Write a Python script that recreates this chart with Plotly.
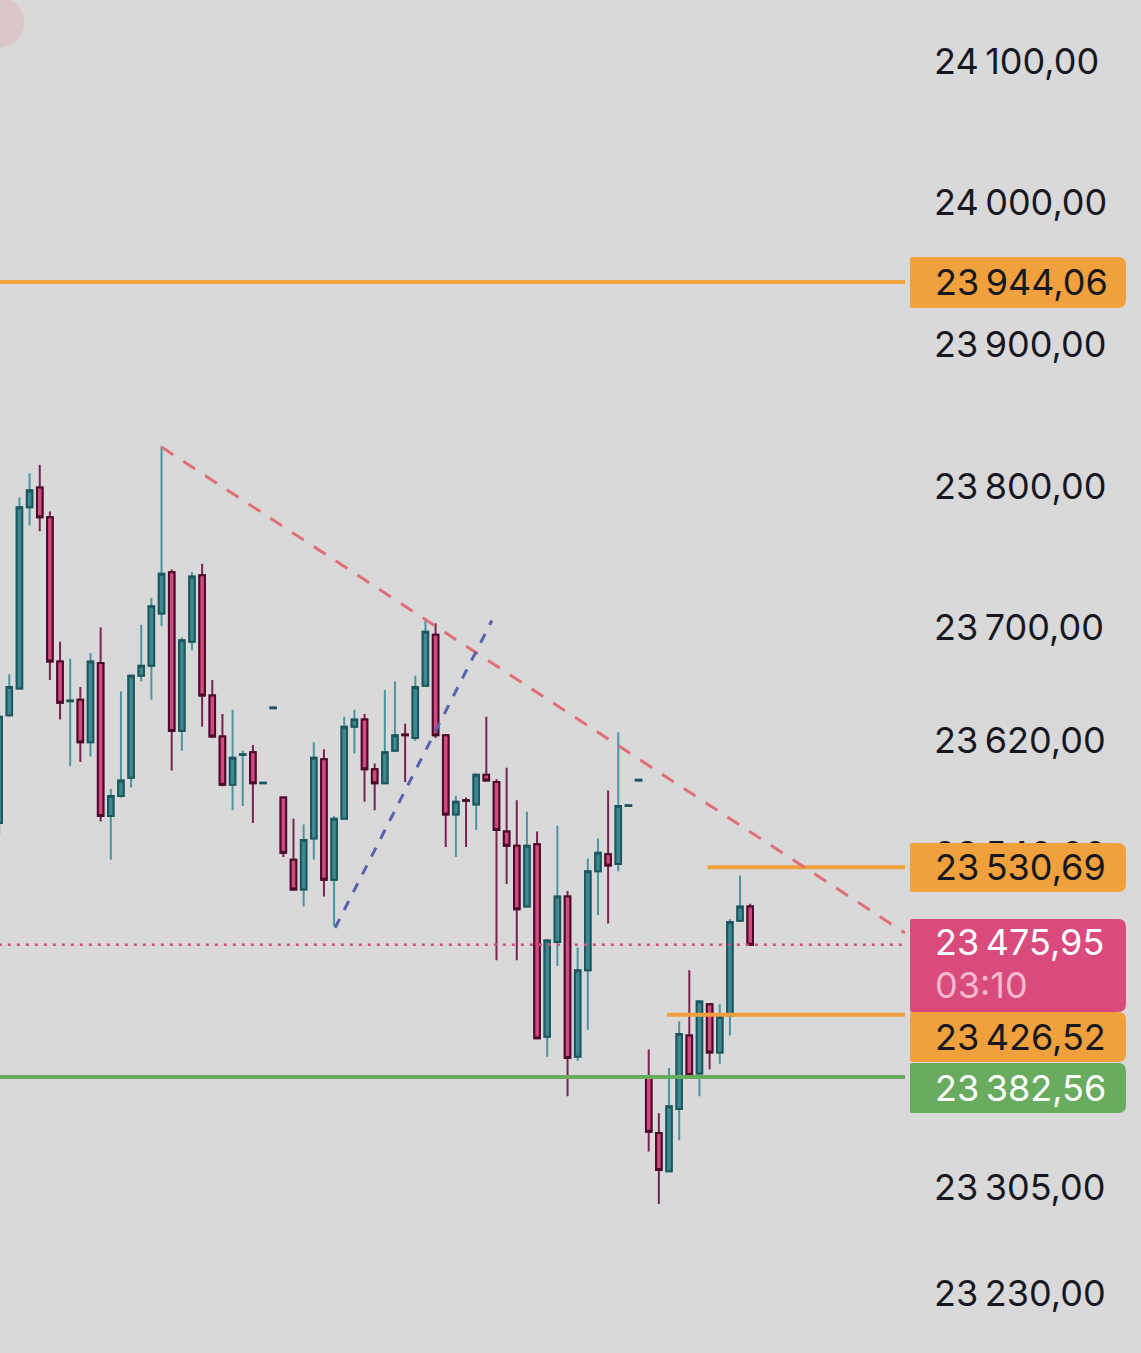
import plotly.graph_objects as go

# ---- candles (bar number on a hidden x axis, oldest first) ----
opens = [23562, 23638, 23657, 23785, 23799, 23778, 23676, 23648, 23649, 23619,
         23675, 23567, 23581, 23594, 23666, 23673, 23710, 23739, 23627, 23690,
         23737, 23652, 23623, 23589, 23610, 23612, 23590, 23643, 23580, 23536,
         23515, 23551, 23607, 23522, 23565, 23630, 23635, 23600, 23590, 23613,
         23624.5, 23622, 23659, 23695, 23624, 23568, 23578, 23575, 23596, 23591,
         23556, 23546, 23503, 23547, 23411, 23478, 23510, 23397, 23458, 23528,
         23540, 23533, 23574, 23592, 23383, 23343, 23316, 23360, 23412, 23385,
         23434, 23400, 23426, 23493, 23503]
highs = [23641, 23667, 23792, 23809, 23815, 23782, 23690, 23678, 23658, 23682,
         23700, 23586, 23655, 23667, 23702, 23721, 23828, 23741, 23693, 23739,
         23745, 23663, 23639, 23642, 23613, 23617, 23590.5, 23643.5, 23580, 23565,
         23561, 23619, 23614, 23567, 23637, 23642, 23639, 23604, 23656, 23662,
         23632, 23666, 23706, 23703, 23624, 23581, 23580, 23597, 23637, 23593,
         23601, 23578, 23570, 23556, 23480, 23560, 23514, 23474, 23537, 23551,
         23585, 23626, 23574.5, 23592.5, 23402, 23357, 23389, 23422, 23458, 23437,
         23434, 23434, 23494, 23525, 23505]
lows = [23553, 23637, 23657, 23772, 23768, 23663, 23635, 23602, 23605, 23609,
        23563, 23536, 23580, 23587, 23662, 23649, 23701, 23599, 23613, 23684,
        23630, 23622, 23588, 23571, 23574, 23562, 23590, 23643, 23538, 23515,
        23503, 23536, 23510, 23489, 23565, 23611, 23577, 23571, 23590, 23613,
        23591, 23620, 23659, 23622, 23545, 23538, 23545, 23557, 23592, 23465,
        23519, 23465, 23503, 23410, 23397, 23461, 23369, 23394, 23416, 23497,
        23491, 23528, 23574, 23592, 23330, 23293, 23316, 23338, 23383, 23369,
        23388, 23392, 23412, 23493, 23476]
closes = [23637, 23658, 23785, 23797, 23778, 23676, 23647, 23648.5, 23619, 23676,
          23567, 23581, 23592, 23666, 23673, 23715, 23738, 23627, 23691, 23736,
          23652, 23623, 23589, 23608, 23610.5, 23590, 23590.5, 23643.5, 23541, 23515,
          23550, 23608, 23522, 23565, 23630, 23635, 23600, 23590, 23612, 23624,
          23624, 23658, 23697, 23624, 23568, 23577, 23577.5, 23596, 23592, 23557,
          23546, 23501, 23546, 23410, 23479, 23510, 23396, 23458, 23528, 23541,
          23532, 23574, 23574.5, 23592.5, 23344, 23317, 23362, 23413, 23384, 23436,
          23400, 23425, 23492, 23503, 23475.95]
bars = list(range(len(opens)))

# ---- price levels drawn across the chart ----
level_values = [23944.06, 23530.69, 23426.52, 23382.56]
level_from = [0, 69.8, 65.8, 0]
last_price = 23475.95
countdown = "03:10"

price_ticks = [24100, 24000, 23900, 23800, 23700, 23620, 23540, 23305, 23230]

# ---- hand drawn trend lines (bar, price) ----
red_trend_x = [16, 89.25]
red_trend_y = [23827.5, 23484.3]
blue_trend_x = [33.1, 48.55]
blue_trend_y = [23488, 23705]

# ---- look ----
BG = "#d9d9d9"
ORANGE = "#f0a03c"
GREEN = "#69ab5f"
PINK = "#d94b7c"
BULL_FILL, BULL_EDGE, BULL_WICK = "#3c8893", "#1f555c", "#4b95a2"
BEAR_FILL, BEAR_EDGE, BEAR_WICK = "#d2497d", "#4a0b2b", "#7a2352"
FONT = "Inter"
FSIZE = 36
TXT = "#17181f"

W, H = 1141, 1353
PLOT_W = 905
X_RANGE = [0.084, 89.25]
Y_RANGE = [23187.7, 24143.2]


def fmt(v):
    s = "{:,.2f}".format(v)
    return s.replace(",", "\u2009").replace(".", ",")


def px_x(p):
    return p / PLOT_W


def px_y(p):
    return 1 - p / H


def box_path(x0, x1, y0, y1, r=8, rl=2):
    # rounded on the right, almost square on the left (pixel coords)
    pts = [
        "M", px_x(x0 + rl), px_y(y0),
        "L", px_x(x1 - r), px_y(y0),
        "Q", px_x(x1), px_y(y0), px_x(x1), px_y(y0 + r),
        "L", px_x(x1), px_y(y1 - r),
        "Q", px_x(x1), px_y(y1), px_x(x1 - r), px_y(y1),
        "L", px_x(x0 + rl), px_y(y1),
        "Q", px_x(x0), px_y(y1), px_x(x0), px_y(y1 - rl),
        "L", px_x(x0), px_y(y0 + rl),
        "Q", px_x(x0), px_y(y0), px_x(x0 + rl), px_y(y0),
        "Z",
    ]
    return " ".join(str(round(p, 5)) if not isinstance(p, str) else p for p in pts)


fig = go.Figure()

level_colors = [ORANGE, ORANGE, ORANGE, GREEN]
for lv, x0, c in zip(level_values, level_from, level_colors):
    fig.add_trace(go.Scatter(x=[x0, X_RANGE[1] + 5], y=[lv, lv], mode="lines",
                             line=dict(color=c, width=4), hoverinfo="skip"))

fig.add_trace(go.Scatter(x=[X_RANGE[0] - 1, X_RANGE[1] + 5], y=[last_price, last_price],
                         mode="lines", line=dict(color="#d0527c", width=2.5, dash="3px,6px"),
                         hoverinfo="skip"))

fig.add_trace(go.Scatter(x=red_trend_x, y=red_trend_y, mode="lines",
                         line=dict(color="#e07078", width=3, dash="14px,12px"),
                         hoverinfo="skip"))
fig.add_trace(go.Scatter(x=blue_trend_x, y=blue_trend_y, mode="lines",
                         line=dict(color="#5862ae", width=3, dash="10px,10px"),
                         hoverinfo="skip"))

# wicks
fig.add_trace(go.Candlestick(
    x=bars, open=opens, high=highs, low=lows, close=closes,
    increasing=dict(line=dict(color=BULL_WICK, width=2), fillcolor=BULL_WICK),
    decreasing=dict(line=dict(color=BEAR_WICK, width=2), fillcolor=BEAR_WICK),
    whiskerwidth=0, hoverinfo="skip"))

# bodies
body_hi = [max(o, c) for o, c in zip(opens, closes)]
body_lo = [min(o, c) for o, c in zip(opens, closes)]
fig.add_trace(go.Candlestick(
    x=bars, open=opens, high=body_hi, low=body_lo, close=closes,
    increasing=dict(line=dict(color=BULL_EDGE, width=2), fillcolor=BULL_FILL),
    decreasing=dict(line=dict(color=BEAR_EDGE, width=2), fillcolor=BEAR_FILL),
    whiskerwidth=0, hoverinfo="skip"))

# price labels on the scale
boxes = [(257, 308, ORANGE), (843, 892, ORANGE), (919, 1012, PINK),
         (1012, 1062, ORANGE), (1063, 1113, GREEN)]
shapes = []
for y0, y1, c in boxes:
    shapes.append(dict(type="path", xref="paper", yref="paper", layer="above",
                       path=box_path(910, 1126, y0, y1), fillcolor=c, line=dict(width=0)))

# little dot in the top-left corner
shapes.append(dict(type="circle", xref="paper", yref="paper", layer="above",
                   x0=px_x(-28), x1=px_x(24), y0=px_y(48), y1=px_y(-4),
                   fillcolor="#dcc6ca", line=dict(width=0)))

label_text = [(fmt(level_values[0]), 282.5, TXT), (fmt(level_values[1]), 867, TXT),
              (fmt(last_price), 942, "white"), (countdown, 985, "#f7b9cd"),
              (fmt(level_values[2]), 1037, TXT), (fmt(level_values[3]), 1088, "white")]
annotations = []
for t, yp, c in label_text:
    annotations.append(dict(x=px_x(933), y=px_y(yp), xref="paper", yref="paper",
                            xanchor="left", yanchor="middle", showarrow=False, text=t,
                            font=dict(family=FONT, size=FSIZE, color=c)))

fig.update_layout(
    width=W, height=H,
    margin=dict(l=0, r=W - PLOT_W, t=0, b=0),
    paper_bgcolor=BG, plot_bgcolor=BG,
    showlegend=False,
    boxgap=0.22,
    shapes=shapes, annotations=annotations,
    xaxis=dict(range=X_RANGE, visible=False, rangeslider=dict(visible=False),
               showgrid=False, zeroline=False),
    yaxis=dict(range=Y_RANGE, side="right", tickvals=price_ticks,
               ticktext=[fmt(v) for v in price_ticks], showgrid=False, zeroline=False,
               showline=False, ticks="", ticklabelstandoff=28, automargin=False,
               tickfont=dict(family=FONT, size=FSIZE, color=TXT)),
)

fig.write_html("out.html", config={"displayModeBar": False},
               post_script="document.body.style.margin='0';")
